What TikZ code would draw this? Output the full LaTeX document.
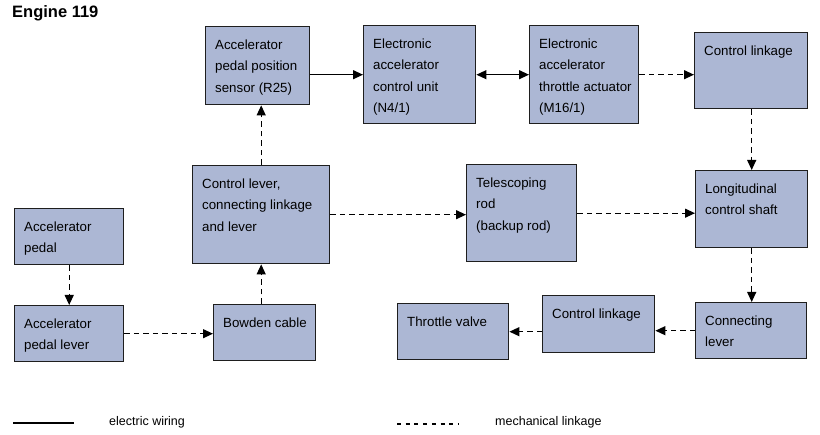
\documentclass[tikz,border=0pt]{standalone}
\usepackage{fontspec}
\setmainfont{Liberation Sans}
\usetikzlibrary{arrows.meta,calc}
\definecolor{boxfill}{RGB}{172,183,212}
\definecolor{boxline}{RGB}{30,30,30}
\newcommand\blk[6]{%
  \node[blockbox, minimum width=#4pt-#2pt, minimum height=#5pt-#3pt, anchor=north west] (#1) at (#2,#3) {};
  \node[blocktxt] (#1-t) at ([shift={(10,13)}]#1.north west) {\rule{0pt}{10pt}#6};
}
\begin{document}
\begin{tikzpicture}[x=1pt,y=-1pt,
  blockbox/.style={draw=boxline, fill=boxfill, line width=1.4pt, inner sep=0pt},
  blocktxt/.style={anchor=north west, inner sep=0pt, align=left, font=\fontsize{13.3}{21.5}\selectfont},
  elec/.style={line width=1.2pt, -{Triangle[length=10pt,width=9pt]}},
  mech/.style={line width=1.2pt, dash pattern=on 5.5pt off 4pt, -{Triangle[length=10pt,width=9pt]}},
  legtxt/.style={anchor=base west, inner sep=0pt, font=\fontsize{12.5}{14}\selectfont}]
\useasboundingbox (0,0) rectangle (820,435);
\node[anchor=base west, inner sep=0pt, font=\fontsize{16.5}{18}\selectfont\bfseries] (title) at (12,18) {Engine 119};

\blk{sensor}{205}{26}{309}{104}{Accelerator\\pedal position\\sensor (R25)}
\blk{ecu}{363}{25}{475}{123}{Electronic\\accelerator\\control unit\\(N4/1)}
\blk{act}{529}{25}{638}{123}{Electronic\\accelerator\\throttle actuator\\(M16/1)}
\blk{clA}{694}{32}{807}{108}{Control linkage}
\blk{lever}{192}{165}{329}{263}{Control lever,\\connecting linkage\\and lever}
\blk{tele}{466}{164}{576}{261}{Telescoping\\rod\\(backup rod)}
\blk{shaft}{695}{170}{807}{247}{Longitudinal\\control shaft}
\blk{pedal}{14}{208}{123}{264}{Accelerator\\pedal}
\blk{plever}{14}{305}{123}{361}{Accelerator\\pedal lever}
\blk{bowden}{213}{304}{315}{360}{Bowden cable}
\blk{valve}{397}{303}{508}{359}{Throttle valve}
\blk{clB}{542}{295}{654}{352}{Control linkage}
\blk{conn}{695}{302}{806}{358}{Connecting\\lever}

% connectors
\draw[elec] (sensor.east |- ecu.west) -- (ecu.west);
\draw[line width=1.2pt, {Triangle[length=10pt,width=9pt]}-{Triangle[length=10pt,width=9pt]}] (ecu.east) -- (act.west);
\draw[mech] (act.east) -- (act.east -| clA.west);
\draw[mech] (clA.south -| shaft.north) -- (shaft.north);
\draw[mech] (lever.north) -- (lever.north |- sensor.south);
\draw[mech] (lever.east) -- (lever.east -| tele.west);
\draw[mech] (tele.east) -- (tele.east -| shaft.west);
\draw[mech] (shaft.south) -- (shaft.south |- conn.north);
\draw[mech] (conn.west) -- (conn.west -| clB.east);
\draw[mech] (clB.west |- valve.east) -- (valve.east);
\draw[mech] (pedal.south) -- (pedal.south |- plever.north);
\draw[mech] (plever.east) -- (plever.east -| bowden.west);
\draw[mech] (bowden.north -| lever.south) -- (lever.south);

% legend
\coordinate (l1a) at (13,423);
\coordinate (l1b) at (74,423);
\draw[line width=1.1pt] (l1a) -- (l1b);
\node[legtxt] (l1t) at (109,426) {electric wiring};
\coordinate (l2a) at (397,424);
\coordinate (l2b) at (459,424);
\draw[line width=1.1pt, dash pattern=on 4pt off 4.7pt] (l2a) -- (l2b);
\node[legtxt] (l2t) at (495,426) {mechanical linkage};
\end{tikzpicture}
\end{document}
